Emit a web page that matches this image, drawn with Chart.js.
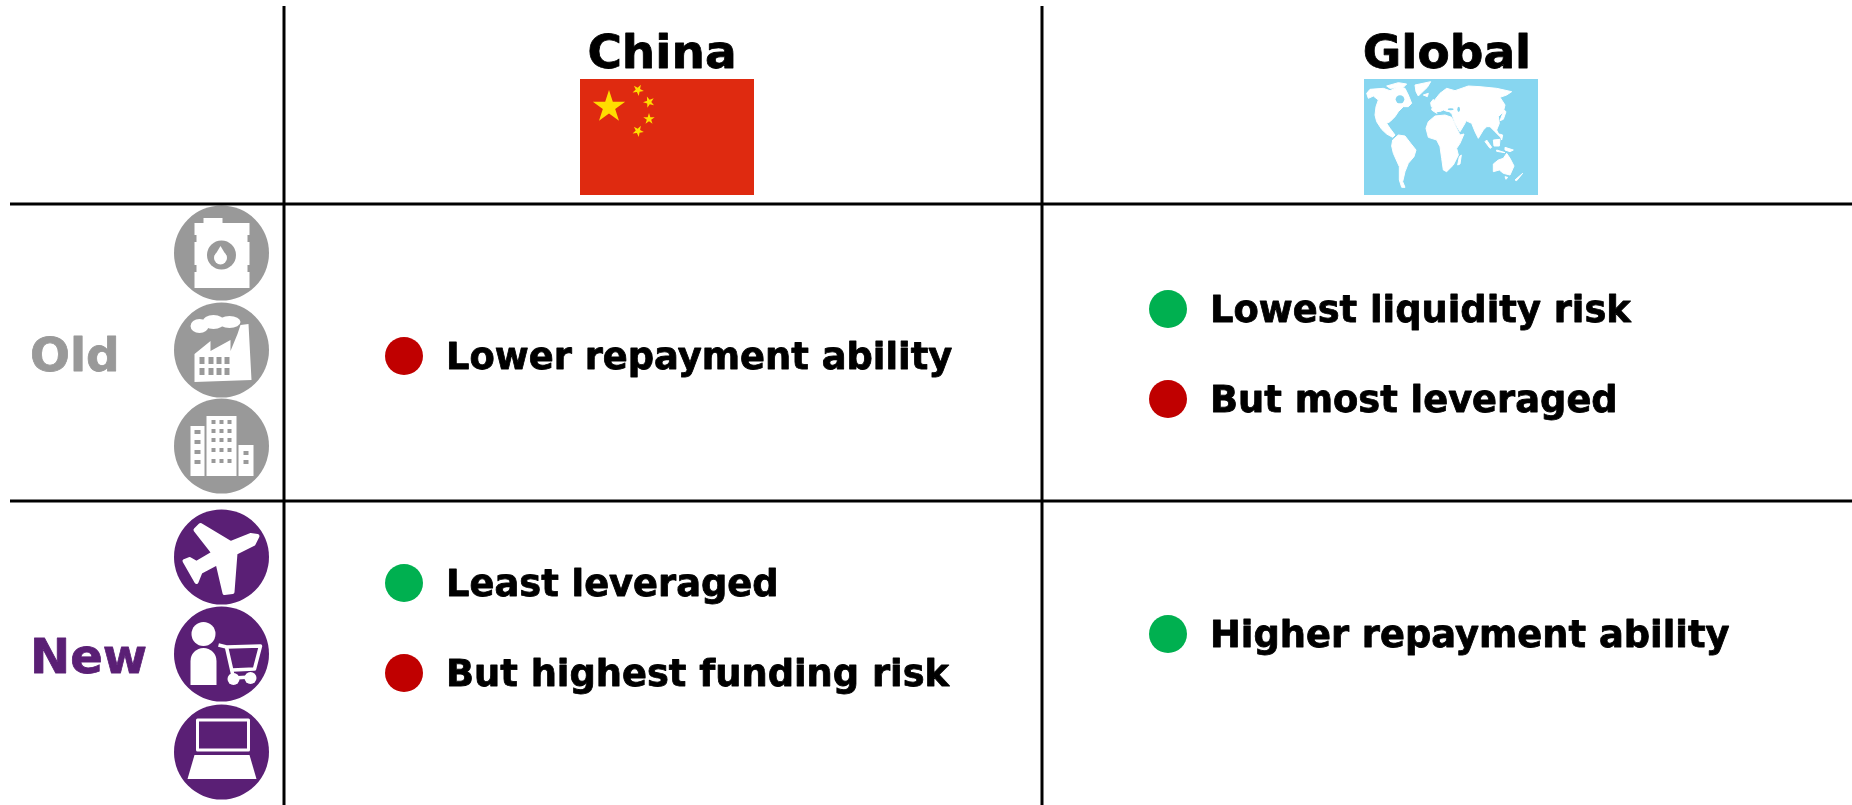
<!DOCTYPE html>
<html>
<head>
<meta charset="utf-8">
<title>Old and new economy risk</title>
<style>
  html, body { margin: 0; padding: 0; background: #fff; overflow: hidden; }
  canvas { display: block; }
</style>
<script src="https://cdn.jsdelivr.net/npm/chart.js@4/dist/chart.umd.min.js"></script>
</head>
<body>
<canvas id="risk" width="1852" height="805"></canvas>
<script>
// table text
var columnTitles = ["China", "Global"];
var columnX = [662, 1447];
var rowTitles = ["Old", "New"];
var rowX = [30, 30];
var rowY = [371, 673];

// one entry per bullet, x / y are on the chart's scales
var goodLabels = ["Lowest liquidity risk", "Least leveraged", "Higher repayment ability"];
var goodX = [1168, 404, 1168];
var goodY = [309, 583, 634];
var badLabels = ["Lower repayment ability", "But most leveraged", "But highest funding risk"];
var badX = [404, 1168, 404];
var badY = [356, 399, 673];

// icon discs
var iconX = [221.5, 221.5, 221.5];
var oldIconY = [253, 350, 446];
var newIconY = [557, 654, 752];

// table rules
var ruleX = [284, 1042];
var ruleY = [204, 501];

var GREY = "#999999";
var PURPLE = "#5A1F75";
var GREEN = "#00B050";
var RED = "#C00000";
var LABEL_GAP = 42;

function zip(xs, ys) {
  return xs.map(function (x, i) { return { x: x, y: ys[i] }; });
}

function poly(ctx, pts, ox, oy, k) {
  ctx.beginPath();
  pts.forEach(function (p, i) {
    if (i === 0) ctx.moveTo(ox + p[0] * k, oy + p[1] * k);
    else ctx.lineTo(ox + p[0] * k, oy + p[1] * k);
  });
  ctx.closePath();
}

function star(ctx, cx, cy, r, rot) {
  ctx.beginPath();
  for (var i = 0; i < 10; i++) {
    var rad = i % 2 ? r * 0.382 : r;
    var a = rot - Math.PI / 2 + i * Math.PI / 5;
    ctx.lineTo(cx + rad * Math.cos(a), cy + rad * Math.sin(a));
  }
  ctx.closePath();
  ctx.fill();
}

function drawChinaFlag(ctx, x, y) {
  ctx.fillStyle = "#DF2A10";
  ctx.fillRect(x, y, 174, 116);
  ctx.fillStyle = "#FFDD00";
  star(ctx, x + 29, y + 28, 17, 0);
  star(ctx, x + 58, y + 11, 6, 0.5);
  star(ctx, x + 69, y + 23, 6, 0.9);
  star(ctx, x + 69, y + 40, 6, 0);
  star(ctx, x + 58, y + 52, 6, 0.5);
}

// rough land outlines traced at 3x, origin at (72,57) in that trace
var land = [
  [[80,100],[90,88],[130,85],[150,92],[175,80],[195,85],[205,105],[215,130],[205,140],[190,140],[175,155],[165,170],[150,185],[140,190],[150,205],[165,225],[158,232],[140,222],[125,208],[110,185],[105,165],[108,140],[115,120],[100,108],[85,115]],
  [[140,78],[175,68],[200,72],[190,82],[150,85]],
  [[225,75],[272,65],[262,82],[245,98],[235,108],[228,95]],
  [[158,240],[175,225],[195,228],[212,250],[228,270],[222,290],[205,310],[195,335],[188,365],[195,382],[185,382],[178,360],[178,320],[160,280],[155,258]],
  [[258,205],[265,185],[285,168],[315,165],[335,172],[345,195],[360,225],[372,222],[360,250],[350,265],[355,285],[340,315],[320,335],[310,330],[305,295],[300,260],[290,240],[265,232]],
  [[275,150],[280,125],[300,100],[320,85],[345,92],[385,78],[420,80],[470,85],[515,95],[500,105],[480,112],[495,135],[490,155],[475,170],[478,190],[470,210],[480,230],[465,215],[450,200],[440,200],[430,210],[415,235],[405,215],[395,190],[378,182],[375,190],[360,215],[345,190],[335,160],[310,150],[290,160]],
  [[440,240],[455,262],[450,265],[435,245]],
  [[460,240],[480,238],[478,258],[462,258]],
  [[495,262],[520,270],[510,275],[495,270]],
  [[470,270],[495,278],[470,274]],
  [[478,222],[488,225],[485,240]],
  [[492,150],[498,155],[490,178],[480,182]],
  [[358,290],[364,285],[360,312],[353,315]],
  [[460,312],[475,300],[490,295],[500,280],[510,295],[522,318],[510,345],[490,340],[478,330],[460,335]],
  [[495,350],[503,352],[498,358]],
  [[525,360],[548,340],[530,362]],
  [[272,128],[280,118],[283,135],[274,140]],
  [[250,105],[265,100],[262,110]]
];
var waters = [[180, 118, 13, 12], [332, 148, 9, 3], [356, 148, 4, 8], [310, 158, 20, 3]];

function drawWorldMap(ctx, x, y) {
  ctx.fillStyle = "#87D6F0";
  ctx.fillRect(x, y, 174, 116);
  ctx.save();
  ctx.beginPath();
  ctx.rect(x, y, 174, 116);
  ctx.clip();
  var ox = x - 24, oy = y - 19;
  ctx.fillStyle = "#fff";
  ctx.strokeStyle = "#fff";
  ctx.lineWidth = 1;
  ctx.lineJoin = "round";
  land.forEach(function (shape) {
    poly(ctx, shape, ox, oy, 1 / 3);
    ctx.fill();
    ctx.stroke();
  });
  ctx.fillStyle = "#87D6F0";
  waters.forEach(function (w) {
    ctx.beginPath();
    ctx.ellipse(ox + w[0] / 3, oy + w[1] / 3, w[2] / 3, w[3] / 3, 0, 0, Math.PI * 2);
    ctx.fill();
  });
  ctx.restore();
}

function windowGrid(ctx, xs, ys, w, h) {
  xs.forEach(function (x) {
    ys.forEach(function (y) { ctx.fillRect(x, y, w, h); });
  });
}

function drawBarrel(ctx, cx, cy) {
  ctx.fillStyle = "#fff";
  ctx.fillRect(cx - 27, cy - 30, 55, 65);
  ctx.fillRect(cx - 18, cy - 35, 19, 6);
  ctx.fillStyle = GREY;
  ctx.beginPath();
  ctx.arc(cx, cy + 2, 14.5, 0, Math.PI * 2);
  ctx.fill();
  ctx.fillRect(cx - 28, cy - 18, 3, 7);
  ctx.fillRect(cx + 26, cy - 18, 3, 7);
  ctx.fillRect(cx - 28, cy + 12, 3, 7);
  ctx.fillRect(cx + 26, cy + 12, 3, 7);
  ctx.fillStyle = "#fff";
  ctx.beginPath();
  ctx.arc(cx - 1, cy + 5, 6.5, 0, Math.PI * 2);
  ctx.fill();
  poly(ctx, [[-7, 3], [-1, -7], [5, 3]], cx, cy, 1);
  ctx.fill();
}

function drawFactory(ctx, cx, cy) {
  ctx.fillStyle = "#fff";
  poly(ctx, [[-27,32],[-27,4],[-11,-9],[-11,1],[9,-10],[9,1],[16,-16],[19,-25],[27,-26],[30,30]], cx, cy, 1);
  ctx.fill();
  [[-22,-24,9,7],[-8,-28,11,7],[8,-28,11,6]].forEach(function (e) {
    ctx.beginPath();
    ctx.ellipse(cx + e[0], cy + e[1], e[2], e[3], 0, 0, Math.PI * 2);
    ctx.fill();
  });
  ctx.fillStyle = GREY;
  windowGrid(ctx, [cx - 22, cx - 13, cx - 5, cx + 3], [cy + 7, cy + 18], 5, 7);
}

function drawCity(ctx, cx, cy) {
  ctx.fillStyle = "#fff";
  ctx.fillRect(cx - 31, cy - 20, 14, 50);
  ctx.fillRect(cx - 15, cy - 30, 30, 60);
  ctx.fillRect(cx + 17, cy - 1, 15, 31);
  ctx.fillStyle = GREY;
  windowGrid(ctx, [cx - 27], [cy - 16, cy - 6, cy + 4, cy + 14], 6, 4);
  windowGrid(ctx, [cx - 10, cx - 2, cx + 6], [cy - 26, cy - 17, cy - 8, cy + 2, cy + 13], 4, 4);
  windowGrid(ctx, [cx + 22], [cy + 5, cy + 14], 5, 4);
}

function drawPlane(ctx, cx, cy) {
  ctx.fillStyle = "#fff";
  ctx.strokeStyle = "#fff";
  ctx.lineWidth = 4;
  ctx.lineJoin = "round";
  poly(ctx, [[36,-21],[32,-13],[14,-4],[11,35],[3,36],[-4,6],[-21,15],[-25,25],[-37,4],[-32,2],[-25,6],[-8,-4],[-26,-27],[-21,-32],[9,-14],[29,-22]], cx, cy, 1);
  ctx.fill();
  ctx.stroke();
}

function drawShopper(ctx, cx, cy) {
  ctx.fillStyle = "#fff";
  ctx.strokeStyle = "#fff";
  ctx.beginPath();
  ctx.arc(cx - 18, cy - 20, 12, 0, Math.PI * 2);
  ctx.fill();
  ctx.beginPath();
  ctx.moveTo(cx - 31, cy + 31);
  ctx.lineTo(cx - 31, cy + 7);
  ctx.arc(cx - 18, cy + 7, 13, Math.PI, 0);
  ctx.lineTo(cx - 5, cy + 31);
  ctx.closePath();
  ctx.fill();
  ctx.lineWidth = 3.5;
  ctx.lineJoin = "round";
  ctx.beginPath();
  ctx.moveTo(cx - 3, cy - 9);
  ctx.lineTo(cx + 5, cy - 7);
  ctx.lineTo(cx + 39, cy - 8);
  ctx.lineTo(cx + 33, cy + 15);
  ctx.lineTo(cx + 11, cy + 16);
  ctx.moveTo(cx + 5, cy - 7);
  ctx.lineTo(cx + 12, cy + 24);
  ctx.lineTo(cx + 29, cy + 23);
  ctx.stroke();
  ctx.beginPath();
  ctx.arc(cx + 12, cy + 25, 6, 0, Math.PI * 2);
  ctx.fill();
  ctx.beginPath();
  ctx.arc(cx + 29, cy + 24, 6, 0, Math.PI * 2);
  ctx.fill();
}

function drawLaptop(ctx, cx, cy) {
  ctx.strokeStyle = "#fff";
  ctx.lineWidth = 3;
  ctx.strokeRect(cx - 24, cy - 32, 51, 30);
  ctx.fillStyle = "#fff";
  poly(ctx, [[-27,3],[28,3],[35,27],[-34,27]], cx, cy, 1);
  ctx.fill();
}

function heavyText(ctx, t, x, y) {
  ctx.strokeStyle = ctx.fillStyle;
  ctx.lineWidth = 0.8;
  ctx.lineJoin = "round";
  ctx.fillText(t, x, y);
  ctx.strokeText(t, x, y);
}

var tableText = {
  id: "tableText",
  afterDatasetsDraw: function (chart) {
    var ctx = chart.ctx, sx = chart.scales.x, sy = chart.scales.y;
    ctx.save();
    ctx.textBaseline = "alphabetic";

    ctx.fillStyle = "#000";
    ctx.font = "bold 47px 'DejaVu Sans'";
    ctx.textAlign = "center";
    columnTitles.forEach(function (t, i) {
      heavyText(ctx, t, sx.getPixelForValue(columnX[i]), sy.getPixelForValue(68));
    });

    ctx.textAlign = "left";
    rowTitles.forEach(function (t, i) {
      ctx.fillStyle = i === 0 ? GREY : PURPLE;
      ctx.font = "bold " + (i === 0 ? 47 : 48) + "px 'DejaVu Sans'";
      heavyText(ctx, t, sx.getPixelForValue(rowX[i]), sy.getPixelForValue(rowY[i]));
    });

    ctx.fillStyle = "#000";
    ctx.font = "bold 36.8px 'DejaVu Sans'";
    [[goodLabels, goodX, goodY], [badLabels, badX, badY]].forEach(function (set) {
      set[0].forEach(function (t, i) {
        heavyText(ctx, t, sx.getPixelForValue(set[1][i]) + LABEL_GAP, sy.getPixelForValue(set[2][i]) + 13);
      });
    });

    drawChinaFlag(ctx, sx.getPixelForValue(580), sy.getPixelForValue(79));
    drawWorldMap(ctx, sx.getPixelForValue(1364), sy.getPixelForValue(79));

    [drawBarrel, drawFactory, drawCity].forEach(function (fn, i) {
      fn(ctx, sx.getPixelForValue(iconX[i]), sy.getPixelForValue(oldIconY[i]));
    });
    [drawPlane, drawShopper, drawLaptop].forEach(function (fn, i) {
      fn(ctx, sx.getPixelForValue(iconX[i]), sy.getPixelForValue(newIconY[i]));
    });
    ctx.restore();
  }
};

function rule(points) {
  return { data: points, showLine: true, borderColor: "#000", borderWidth: 3, pointRadius: 0 };
}

function dots(xs, ys, color, r) {
  return { data: zip(xs, ys), showLine: false, backgroundColor: color, borderWidth: 0, pointRadius: r, pointStyle: "circle" };
}

var datasets = [];
ruleY.forEach(function (y) { datasets.push(rule([{ x: 10, y: y }, { x: 1852, y: y }])); });
ruleX.forEach(function (x) { datasets.push(rule([{ x: x, y: 6 }, { x: x, y: 805 }])); });
datasets.push(dots(goodX, goodY, GREEN, 19));
datasets.push(dots(badX, badY, RED, 19));
datasets.push(dots(iconX, oldIconY, GREY, 47.5));
datasets.push(dots(iconX, newIconY, PURPLE, 47.5));

new Chart(document.getElementById("risk"), {
  type: "scatter",
  data: { datasets: datasets },
  plugins: [tableText],
  options: {
    responsive: false,
    animation: false,
    layout: { padding: 0, autoPadding: false },
    plugins: { legend: { display: false }, tooltip: { enabled: false } },
    scales: {
      x: { type: "linear", display: false, min: 0, max: 1852 },
      y: { type: "linear", display: false, min: 0, max: 805, reverse: true }
    }
  }
});
</script>
</body>
</html>
